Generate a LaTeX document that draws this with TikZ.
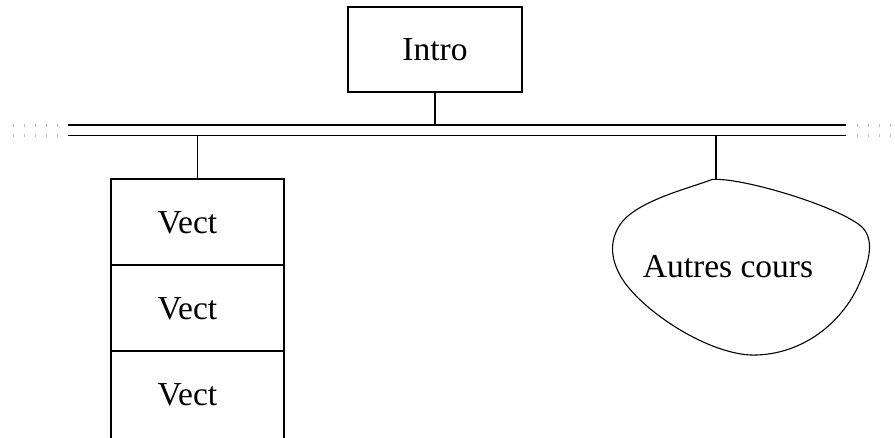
\documentclass[tikz,border=0pt]{standalone}
\usepackage{fontspec}
\setmainfont{Liberation Serif}
\begin{document}
\begin{tikzpicture}[x=1pt,y=-1pt,
  box/.style={draw,line width=1.6pt,rectangle,inner sep=0pt},
  lbl/.style={inner sep=0pt,font=\fontsize{33.5}{40}\selectfont},
  link/.style={line width=1.4pt},
  busline/.style={line width=1.6pt},
  busdots/.style={draw=black!25,line width=3pt,dash pattern=on 1pt off 10pt},
  blob/.style={draw,line width=1.1pt}]
\useasboundingbox (0,0) rectangle (895,437);

% bus: two parallel rails with faint dotted continuations
\coordinate (busTL) at (68,125);
\coordinate (busTR) at (846,125);
\coordinate (busBL) at (68,135.5);
\coordinate (busBR) at (846,135.5);
\draw[busline] (busTL) -- (busTR);
\draw[busline] (busBL) -- (busBR);
\draw[busdots] (12.5,125) -- (60,125);
\draw[busdots] (12.5,135.5) -- (60,135.5);
\draw[busdots] (856.5,125) -- (895,125);
\draw[busdots] (856.5,135.5) -- (895,135.5);

% top module
\node[box,minimum width=174pt,minimum height=85pt] (intro) at (435,49.5) {};
\node[lbl] (introtxt) at (435,49.5) {Intro};
\draw[link] (intro.south) -- (intro.south |- busTL);

% stack of Vect cells
\node[box,minimum width=173pt,minimum height=86pt] (v1) at (197.5,222) {};
\node[box,minimum width=173pt,minimum height=86pt] (v2) at (197.5,308) {};
\node[box,minimum width=173pt,minimum height=100pt] (v3) at (197.5,401) {};
\node[lbl] (v1txt) at (187.5,223) {Vect};
\node[lbl] (v2txt) at (187.5,308.5) {Vect};
\node[lbl] (v3txt) at (187.5,394.5) {Vect};
\draw[link] (v1.north) -- (v1.north |- busBL);

% cloud of other courses
\coordinate (blobtop) at (712,179.5);
\draw[blob] (blobtop)
  .. controls (742,177) and (840,207) .. (862,227)
  .. controls (875,240) and (869,262) .. (860,282)
  .. controls (845,318) and (808,353) .. (757,355)
  .. controls (715,357) and (650,317) .. (625,283)
  .. controls (610,262) and (608,240) .. (622,222)
  .. controls (640,200) and (690,188) .. (blobtop) -- cycle;
\node[lbl] (autres) at (728,267) {Autres cours};
\draw[link] ([xshift=4pt]blobtop) -- ([xshift=4pt]blobtop |- busBL);
\end{tikzpicture}
\end{document}
